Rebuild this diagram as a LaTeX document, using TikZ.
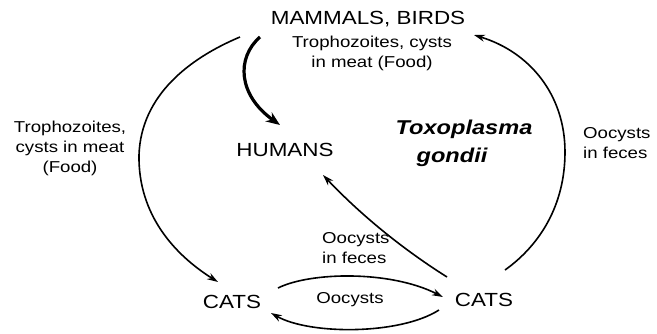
\documentclass[tikz,border=0pt]{standalone}
\usepackage{fontspec}
\setmainfont[FakeStretch=1.18]{Liberation Sans}
\usetikzlibrary{arrows.meta}
\begin{document}
\begin{tikzpicture}[x=1pt,y=-1pt,
  big/.style={font=\fontsize{19}{22}\selectfont, inner sep=0pt, anchor=base},
  small/.style={font=\fontsize{15.8}{20}\selectfont, inner sep=0pt, anchor=base, align=center},
  arr/.style={line width=1.6pt, -{Stealth[length=11pt,width=7pt]}},
  thick arr/.style={line width=3.2pt, -{Stealth[length=14pt,width=11pt]}}
]
\useasboundingbox (0,0) rectangle (657,333);
\fill[white] (0,0) rectangle (657,333);
% texts (multi-line nodes: base is the last line)
\node[big] (mb) at (368,24) {MAMMALS, BIRDS};
\node[small] (food) at (372,67) {Trophozoites, cysts\\in meat (Food)};
\node[big] (hum) at (285,156) {HUMANS};
\node[font=\fontsize{20}{28}\selectfont\bfseries\itshape, align=center, inner sep=0pt, anchor=base] (tox) at (464,162) {Toxoplasma\\\hspace*{-24pt}gondii};
\node[small] (leftlbl) at (70,172) {Trophozoites,\\cysts in meat\\(Food)};
\node[small, align=left, anchor=base west] (rightlbl) at (583,158) {Oocysts\\in feces};
\node[small, align=left, anchor=base west] (midlbl) at (322,263) {Oocysts\\in feces};
\node[small] (oolbl) at (350,303) {Oocysts};
\node[big] (catl) at (232,308) {CATS};
\node[big] (catr) at (484,306) {CATS};
% connector ends
\coordinate (a1s) at (240,37);
\coordinate (a1e) at (218,282);
\coordinate (a2s) at (260,37);
\coordinate (a2e) at (280,125);
\coordinate (a3s) at (447,277);
\coordinate (a3e) at (323,175);
\coordinate (a4s) at (505,270);
\coordinate (a4e) at (474,35);
\coordinate (a5s) at (278,288);
\coordinate (a5e) at (443,297);
\coordinate (a6s) at (439,310);
\coordinate (a6e) at (271,313);
% connectors
\draw[arr] (a1s) .. controls (190,58) and (141,95) .. (139,155) .. controls (138,215) and (175,255) .. (a1e);
\draw[thick arr] (a2s) .. controls (236,58) and (238,95) .. (a2e);
\draw[arr] (a3s) .. controls (401,248) and (360,214) .. (a3e);
\draw[arr] (a4s) .. controls (540,245) and (565,205) .. (565,152) .. controls (565,95) and (530,52) .. (a4e);
\draw[arr] (a5s) .. controls (310,272) and (390,270) .. (a5e);
\draw[arr] (a6s) .. controls (400,335) and (310,335) .. (a6e);
\end{tikzpicture}
\end{document}
